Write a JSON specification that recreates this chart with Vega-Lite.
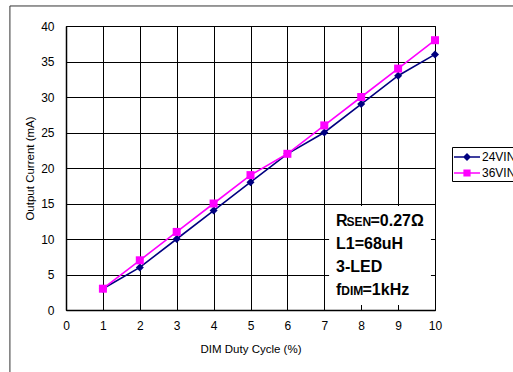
{
  "$schema": "https://vega.github.io/schema/vega-lite/v6.json",
  "autosize": {"type": "none"},
  "width": 369,
  "height": 284,
  "padding": {"left": 66, "top": 26, "right": 78, "bottom": 62},
  "background": "white",
  "config": {
    "font": "Liberation Sans",
    "view": {"stroke": "#000", "strokeWidth": 1},
    "axis": {
      "grid": true,
      "gridColor": "#000",
      "gridWidth": 1,
      "gridOpacity": 1,
      "domainColor": "#000",
      "domainWidth": 1.5,
      "ticks": false,
      "labelFont": "Liberation Sans",
      "labelFontSize": 12,
      "labelColor": "#000",
      "labelFlush": false,
      "labelOverlap": false,
      "titleFont": "Liberation Sans",
      "titleFontSize": 11.5,
      "titleFontWeight": "normal",
      "titleColor": "#000"
    },
    "axisX": {"tickCount": 11, "labelPadding": 10, "titlePadding": 12},
    "axisY": {"tickCount": 9, "labelPadding": 12, "titlePadding": 5},
    "legend": {
      "labelFont": "Liberation Sans",
      "labelFontSize": 12,
      "labelColor": "#000"
    }
  },
  "datasets": {
    "measured": [
      {"duty": 1, "current": 3, "series": "24VIN"},
      {"duty": 2, "current": 6, "series": "24VIN"},
      {"duty": 3, "current": 10, "series": "24VIN"},
      {"duty": 4, "current": 14, "series": "24VIN"},
      {"duty": 5, "current": 18, "series": "24VIN"},
      {"duty": 6, "current": 22, "series": "24VIN"},
      {"duty": 7, "current": 25, "series": "24VIN"},
      {"duty": 8, "current": 29, "series": "24VIN"},
      {"duty": 9, "current": 33, "series": "24VIN"},
      {"duty": 10, "current": 36, "series": "24VIN"},
      {"duty": 1, "current": 3, "series": "36VIN"},
      {"duty": 2, "current": 7, "series": "36VIN"},
      {"duty": 3, "current": 11, "series": "36VIN"},
      {"duty": 4, "current": 15, "series": "36VIN"},
      {"duty": 5, "current": 19, "series": "36VIN"},
      {"duty": 6, "current": 22, "series": "36VIN"},
      {"duty": 7, "current": 26, "series": "36VIN"},
      {"duty": 8, "current": 30, "series": "36VIN"},
      {"duty": 9, "current": 34, "series": "36VIN"},
      {"duty": 10, "current": 38, "series": "36VIN"}
    ],
    "one": [{}]
  },
  "layer": [
    {
      "data": {"name": "one"},
      "mark": {"type": "rect", "fill": null, "stroke": "#333", "strokeWidth": 1, "clip": false},
      "encoding": {
        "x": {
          "datum": -1.52, "type": "quantitative",
          "scale": {"domain": [0, 10], "nice": false, "zero": false},
          "axis": {"values": [0,1,2,3,4,5,6,7,8,9,10], "tickCount": 11, "title": "DIM Duty Cycle (%)"}
        },
        "x2": {"datum": 14},
        "y": {
          "datum": 42.82, "type": "quantitative",
          "scale": {"domain": [0, 40], "nice": false, "zero": false},
          "axis": {"values": [0,5,10,15,20,25,30,35,40], "tickCount": 9, "title": "Output Current (mA)"}
        },
        "y2": {"datum": -12}
      }
    },
    {
      "data": {"name": "measured"},
      "mark": {"type": "point", "filled": true, "opacity": 0, "size": 10},
      "encoding": {
        "x": {"field": "duty", "type": "quantitative", "axis": {"values": [0,1,2,3,4,5,6,7,8,9,10], "tickCount": 11, "title": "DIM Duty Cycle (%)"}},
        "y": {"field": "current", "type": "quantitative", "axis": {"values": [0,5,10,15,20,25,30,35,40], "tickCount": 9, "title": "Output Current (mA)"}},
        "color": {
          "field": "series", "type": "nominal",
          "scale": {"domain": ["24VIN", "36VIN"], "range": ["#000080", "#FF00FF"]},
          "legend": {
            "title": null, "orient": "none", "legendX": 386, "legendY": 121,
            "padding": 2, "strokeColor": "#000", "fillColor": "white",
            "symbolSize": 256, "symbolOpacity": 1, "symbolStrokeWidth": 0,
            "rowPadding": 2, "labelOffset": 12
          }
        },
        "shape": {
          "field": "series", "type": "nominal",
          "scale": {
            "domain": ["24VIN", "36VIN"],
            "range": [
              "M-1,-0.09H2.25V0.09H-1Z M0.625,-0.5L1.125,0L0.625,0.5L0.125,0Z",
              "M-1,-0.09H2.25V0.09H-1Z M0.175,-0.45H1.075V0.45H0.175Z"
            ]
          },
          "legend": {
            "title": null, "orient": "none", "legendX": 386, "legendY": 121,
            "padding": 2, "strokeColor": "#000", "fillColor": "white",
            "symbolSize": 256, "symbolOpacity": 1, "symbolStrokeWidth": 0,
            "rowPadding": 2, "labelOffset": 12
          }
        }
      }
    },
    {
      "data": {"name": "measured"},
      "mark": {"type": "line", "strokeWidth": 1.6},
      "encoding": {
        "x": {"field": "duty", "type": "quantitative"},
        "y": {"field": "current", "type": "quantitative"},
        "color": {"field": "series", "type": "nominal"}
      }
    },
    {
      "data": {"name": "measured"},
      "transform": [{"filter": "datum.series === '24VIN'"}],
      "mark": {"type": "point", "filled": true, "opacity": 1, "size": 64, "shape": "diamond"},
      "encoding": {
        "x": {"field": "duty", "type": "quantitative"},
        "y": {"field": "current", "type": "quantitative"},
        "color": {"field": "series", "type": "nominal"}
      }
    },
    {
      "data": {"name": "measured"},
      "transform": [{"filter": "datum.series === '36VIN'"}],
      "mark": {"type": "point", "filled": true, "opacity": 1, "size": 64, "shape": "square"},
      "encoding": {
        "x": {"field": "duty", "type": "quantitative"},
        "y": {"field": "current", "type": "quantitative"},
        "color": {"field": "series", "type": "nominal"}
      }
    },
    {
      "data": {"name": "one"},
      "mark": {"type": "rect", "fill": "white"},
      "encoding": {
        "x": {"datum": 7.13, "type": "quantitative"},
        "x2": {"datum": 9.89},
        "y": {"datum": 14.65, "type": "quantitative"},
        "y2": {"datum": 0.7}
      }
    },
    {
      "data": {"name": "one"},
      "mark": {"type": "text", "align": "left", "baseline": "alphabetic", "fontSize": 16, "fontWeight": "bold", "font": "Liberation Sans", "color": "#000"},
      "encoding": {"x": {"datum": 7.317, "type": "quantitative"}, "y": {"datum": 11.83, "type": "quantitative"}, "text": {"value": "R"}}
    },
    {
      "data": {"name": "one"},
      "mark": {"type": "text", "align": "left", "baseline": "alphabetic", "fontSize": 12, "fontWeight": "bold", "font": "Liberation Sans", "color": "#000", "dx": 10.5},
      "encoding": {"x": {"datum": 7.317, "type": "quantitative"}, "y": {"datum": 11.83, "type": "quantitative"}, "text": {"value": "SEN"}}
    },
    {
      "data": {"name": "one"},
      "mark": {"type": "text", "align": "left", "baseline": "alphabetic", "fontSize": 16, "fontWeight": "bold", "font": "Liberation Sans", "color": "#000", "dx": 34.5},
      "encoding": {"x": {"datum": 7.317, "type": "quantitative"}, "y": {"datum": 11.83, "type": "quantitative"}, "text": {"value": "=0.27Ω"}}
    },
    {
      "data": {"name": "one"},
      "mark": {"type": "text", "align": "left", "baseline": "alphabetic", "fontSize": 16, "fontWeight": "bold", "font": "Liberation Sans", "color": "#000"},
      "encoding": {"x": {"datum": 7.317, "type": "quantitative"}, "y": {"datum": 8.66, "type": "quantitative"}, "text": {"value": "L1=68uH"}}
    },
    {
      "data": {"name": "one"},
      "mark": {"type": "text", "align": "left", "baseline": "alphabetic", "fontSize": 16, "fontWeight": "bold", "font": "Liberation Sans", "color": "#000"},
      "encoding": {"x": {"datum": 7.317, "type": "quantitative"}, "y": {"datum": 5.42, "type": "quantitative"}, "text": {"value": "3-LED"}}
    },
    {
      "data": {"name": "one"},
      "mark": {"type": "text", "align": "left", "baseline": "alphabetic", "fontSize": 16, "fontWeight": "bold", "font": "Liberation Sans", "color": "#000"},
      "encoding": {"x": {"datum": 7.317, "type": "quantitative"}, "y": {"datum": 2.11, "type": "quantitative"}, "text": {"value": "f"}}
    },
    {
      "data": {"name": "one"},
      "mark": {"type": "text", "align": "left", "baseline": "alphabetic", "fontSize": 12, "fontWeight": "bold", "font": "Liberation Sans", "color": "#000", "dx": 5.3},
      "encoding": {"x": {"datum": 7.317, "type": "quantitative"}, "y": {"datum": 2.11, "type": "quantitative"}, "text": {"value": "DIM"}}
    },
    {
      "data": {"name": "one"},
      "mark": {"type": "text", "align": "left", "baseline": "alphabetic", "fontSize": 16, "fontWeight": "bold", "font": "Liberation Sans", "color": "#000", "dx": 26.5},
      "encoding": {"x": {"datum": 7.317, "type": "quantitative"}, "y": {"datum": 2.11, "type": "quantitative"}, "text": {"value": "=1kHz"}}
    }
  ]
}
